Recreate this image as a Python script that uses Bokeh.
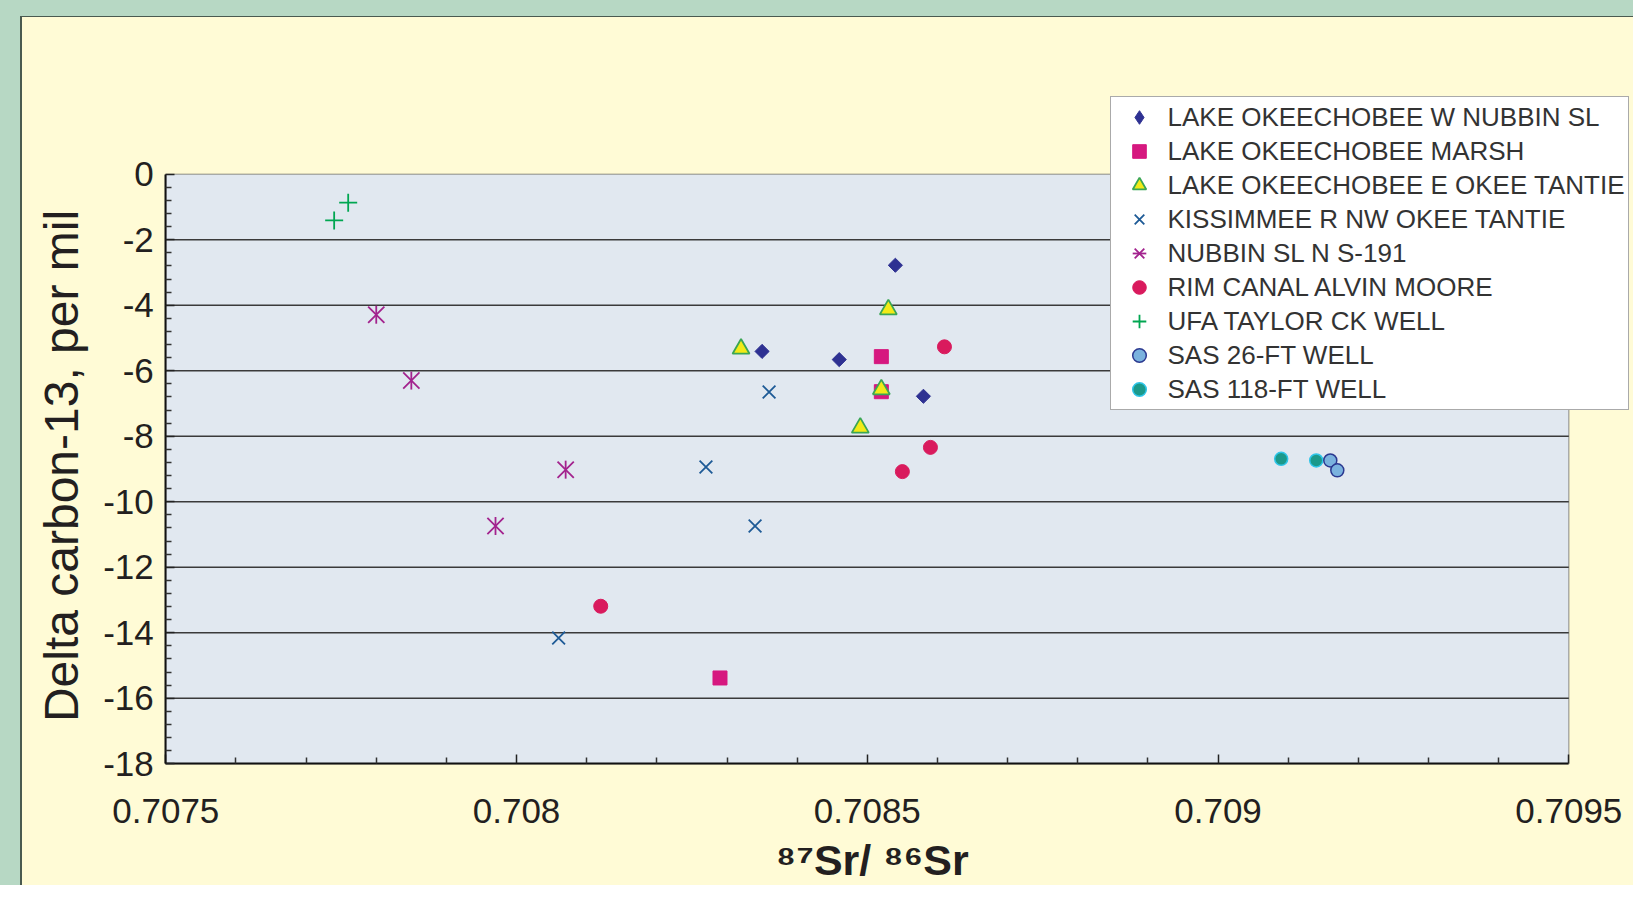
import numpy as np
from bokeh.plotting import figure
from bokeh.models import FixedTicker, Legend, LegendItem, BoxAnnotation, Range1d, Label
from bokeh.embed import file_html
from bokeh.resources import INLINE

# ---------------- data ----------------
w_nubbin_x = [0.70854, 0.70835, 0.70846, 0.70858]
w_nubbin_y = [-2.78, -5.41, -5.66, -6.78]
marsh_x = [0.70852, 0.70852, 0.70829]
marsh_y = [-5.57, -6.64, -15.38]
e_tantie_x = [0.70853, 0.70832, 0.70852, 0.70849]
e_tantie_y = [-4.13, -5.33, -6.57, -7.74]
kiss_x = [0.70836, 0.70827, 0.70834, 0.70806]
kiss_y = [-6.65, -8.94, -10.74, -14.16]
s191_x = [0.70780, 0.70785, 0.70807, 0.70797]
s191_y = [-4.29, -6.30, -9.02, -10.74]
rim_x = [0.70861, 0.70859, 0.70855, 0.70812]
rim_y = [-5.27, -8.34, -9.08, -13.19]
ufa_x = [0.70774, 0.70776]
ufa_y = [-1.41, -0.87]
sas26_x = [0.70916, 0.70917]
sas26_y = [-8.74, -9.04]
sas118_x = [0.70909, 0.70914]
sas118_y = [-8.69, -8.74]

series_names = [
    "LAKE OKEECHOBEE W NUBBIN SL",
    "LAKE OKEECHOBEE MARSH",
    "LAKE OKEECHOBEE E OKEE TANTIE",
    "KISSIMMEE R NW OKEE TANTIE",
    "NUBBIN SL N S-191",
    "RIM CANAL ALVIN MOORE",
    "UFA TAYLOR CK WELL",
    "SAS 26-FT WELL",
    "SAS 118-FT WELL",
]

x_min, x_max = 0.7075, 0.7095
y_min, y_max = -18, 0
x_ticks = [0.7075, 0.708, 0.7085, 0.709, 0.7095]
x_tick_labels = ["0.7075", "0.708", "0.7085", "0.709", "0.7095"]
y_ticks = [0, -2, -4, -6, -8, -10, -12, -14, -16, -18]
y_tick_labels = ["0", "-2", "-4", "-6", "-8", "-10", "-12", "-14", "-16", "-18"]
x_title = "\u2078\u2077Sr/ \u2078\u2076Sr"
y_title = "Delta carbon-13, per mil"

# ---------------- styling ----------------
GREEN = "#b7d8c4"
DARK = "#4a5a50"
YELLOW = "#fffbd6"
PLOTBG = "#e1e8f0"
INK = "#231f20"
FONT = "Liberation Sans"

# pixel geometry of the layout (frame covers the whole canvas)
W, H = 1633, 885
AREA_LEFT, AREA_TOP, AREA_RIGHT, AREA_BOTTOM = 165.3, 173.7, 1568.3, 763.3
px_per_x = (AREA_RIGHT - AREA_LEFT) / (x_max - x_min)
px_per_y = (AREA_BOTTOM - AREA_TOP) / (y_max - y_min)
x_start = x_min - AREA_LEFT / px_per_x
x_end = x_max + (W - AREA_RIGHT) / px_per_x
y_top = y_max + AREA_TOP / px_per_y
y_bottom = y_min - (H - AREA_BOTTOM) / px_per_y

p = figure(width=W, height=H,
           x_range=Range1d(x_start, x_end), y_range=Range1d(y_bottom, y_top),
           output_backend="svg", toolbar_location=None,
           min_border_left=0, min_border_right=0,
           min_border_top=0, min_border_bottom=0,
           background_fill_color=None, border_fill_color=None)
p.outline_line_color = None
p.styles = {
    "background": (
        f"linear-gradient(to right, {GREEN} 0px, {GREEN} 20px, transparent 20px), "
        f"linear-gradient(to bottom, {GREEN} 0px, {GREEN} 16px, {DARK} 16px, {DARK} 17.5px, transparent 17.5px), "
        f"linear-gradient(to right, transparent 20px, {DARK} 20px, {DARK} 21.5px, transparent 21.5px), "
        f"{YELLOW}"
    )
}

# plot area
p.add_layout(BoxAnnotation(left=x_min, right=x_max, bottom=y_min, top=y_max,
                           fill_color=PLOTBG, fill_alpha=1,
                           line_color="#111111", line_width=1.5, level="image"))

# horizontal grid lines
grid_y = [v for v in y_ticks if v not in (y_min, y_max)]
p.segment(x0=[x_min] * len(grid_y), x1=[x_max] * len(grid_y), y0=grid_y, y1=grid_y,
          line_color="#3a3a3a", line_width=1.5)
p.xgrid.visible = False
p.ygrid.visible = False

# axes
xminor = [float(v) for v in np.round(np.arange(0.7075, 0.70951, 0.0001), 4) if round(float(v), 4) not in x_ticks]
yminor = [float(v) for v in np.round(np.arange(-18, 0.01, 0.4), 1) if float(v) not in y_ticks]

xa = p.xaxis[0]
xa.ticker = FixedTicker(ticks=x_ticks, minor_ticks=xminor)
xa.major_label_overrides = dict(zip(x_ticks, x_tick_labels))
xa.bounds = (x_min, x_max)
xa.fixed_location = y_min
ya = p.yaxis[0]
ya.ticker = FixedTicker(ticks=y_ticks, minor_ticks=yminor)
ya.major_label_overrides = {float(k): v for k, v in zip(y_ticks, y_tick_labels)}
ya.bounds = (y_min, y_max)
ya.fixed_location = x_min

for ax in (xa, ya):
    ax.axis_line_color = "#111111"
    ax.axis_line_width = 2
    ax.major_tick_in = 9
    ax.major_tick_out = 0
    ax.minor_tick_in = 6
    ax.minor_tick_out = 0
    ax.major_tick_line_color = "#222222"
    ax.minor_tick_line_color = "#333333"
    ax.major_tick_line_width = 1.5
    ax.minor_tick_line_width = 1.5
    ax.major_label_text_font = FONT
    ax.major_label_text_font_size = "35px"
    ax.major_label_text_color = INK

xa.major_label_standoff = 35
ya.major_label_standoff = 12

# axis titles
p.add_layout(Label(x=(x_min + x_max) / 2, y=y_min, x_offset=5, y_offset=-(859 - AREA_BOTTOM),
                   text=x_title, text_align="center", text_baseline="alphabetic",
                   text_font=FONT, text_font_size="43px", text_font_style="bold",
                   text_color=INK))
p.add_layout(Label(x=x_min, y=(y_min + y_max) / 2, x_offset=61 - AREA_LEFT, y_offset=3,
                   angle=np.pi / 2, text=y_title, text_align="center",
                   text_baseline="alphabetic", text_font=FONT, text_font_size="48px",
                   text_color=INK))

# ---------------- series ----------------
# diamond key (hidden under the rotated squares; used for the legend swatch)
r1_key = p.scatter(w_nubbin_x, w_nubbin_y, marker="diamond", size=10,
                   fill_color="#2e3192", line_color="#2e3192", line_width=1)
r1 = p.scatter(w_nubbin_x, w_nubbin_y, marker="square", angle=np.pi / 4, size=10,
               fill_color="#2e3192", line_color="#2e3192", line_width=1)
r2 = p.scatter(marsh_x, marsh_y, marker="square", size=14,
               fill_color="#d6187f", line_color="#d6187f", line_width=1)
r3 = p.scatter(e_tantie_x, e_tantie_y, marker="triangle", size=17,
               fill_color="#f2ea17", line_color="#3aa655", line_width=1.8)
r4 = p.scatter(kiss_x, kiss_y, marker="x", size=18,
               line_color="#1d5a96", line_width=1.8)
r5a = p.scatter(s191_x, s191_y, marker="x", size=23,
                line_color="#a3238e", line_width=1.8)
r5b = p.scatter(s191_x, s191_y, marker="dash", angle=np.pi / 2, size=18,
                line_color="#a3238e", line_width=1.8)
r6 = p.scatter(rim_x, rim_y, marker="circle", size=14,
               fill_color="#d91a5d", line_color="#d91a5d", line_width=1)
r7 = p.scatter(ufa_x, ufa_y, marker="cross", size=18,
               line_color="#00a651", line_width=1.8)
r9 = p.scatter(sas118_x, sas118_y, marker="circle", size=13,
               fill_color="#1b998b", line_color="#2ec5e8", line_width=1.5)
r8 = p.scatter(sas26_x, sas26_y, marker="circle", size=13,
               fill_color="#7ab2de", line_color="#2b3990", line_width=1.5)

renderer_groups = [[r1_key], [r2], [r3], [r4], [r5a, r5b], [r6], [r7], [r8], [r9]]
items = [LegendItem(label=name, renderers=grp) for name, grp in zip(series_names, renderer_groups)]

legend = Legend(items=items, location=(1109.5, H - 410), orientation="vertical",
                label_text_font=FONT, label_text_font_size="26px", label_text_color="#333333",
                glyph_width=50, glyph_height=34, label_height=34, label_width=455,
                spacing=0, padding=3, label_standoff=4, margin=0,
                border_line_color="#555555", border_line_width=1,
                background_fill_color="white", background_fill_alpha=1)
p.add_layout(legend, "center")

open("out.html", "w").write(file_html(p, INLINE))
